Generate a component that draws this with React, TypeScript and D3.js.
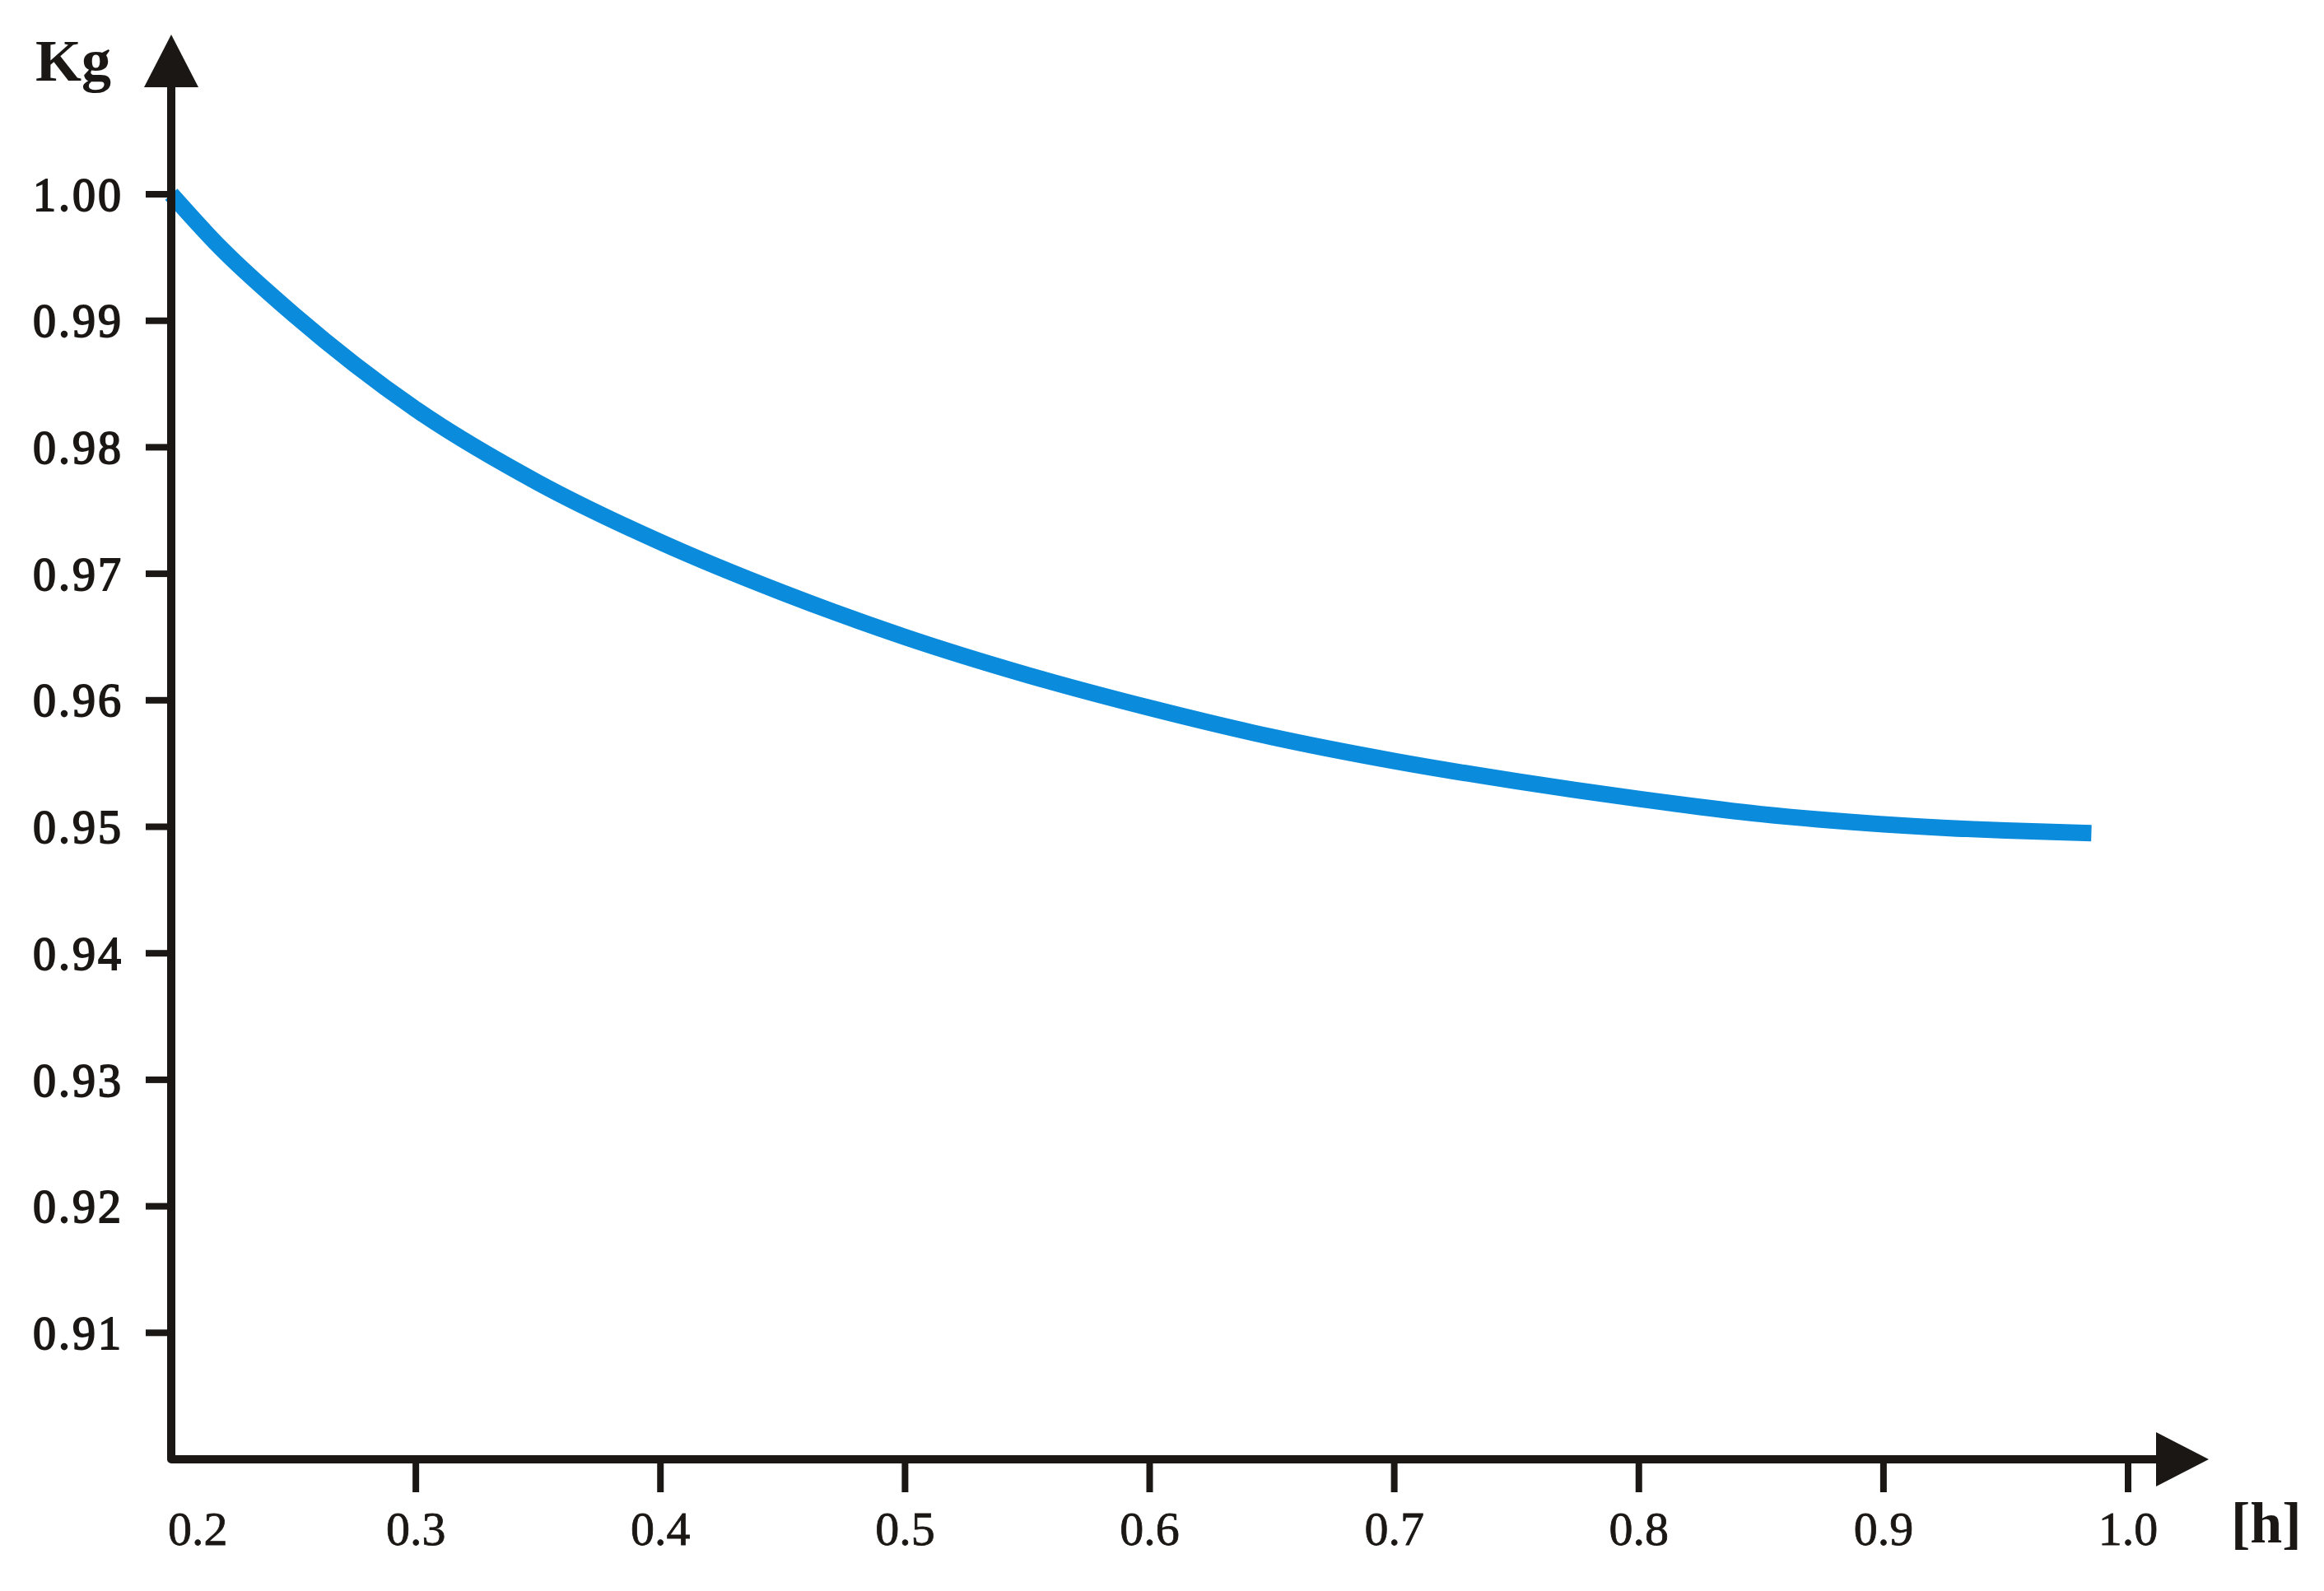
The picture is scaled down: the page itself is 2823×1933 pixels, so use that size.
import React from 'react';
import * as d3 from 'd3';

// Kg against time [h]
const hours = [0.2, 0.22, 0.25, 0.3, 0.35, 0.4, 0.45, 0.5, 0.55, 0.6, 0.65, 0.7, 0.75, 0.8, 0.85, 0.9, 0.95, 0.985];
const kg = [1.0, 0.9958, 0.9905, 0.983, 0.9772, 0.9725, 0.9685, 0.965, 0.962, 0.9594, 0.9571, 0.9552, 0.9536, 0.9522, 0.951, 0.9502, 0.9497, 0.9495];

const xTicks = [0.2, 0.3, 0.4, 0.5, 0.6, 0.7, 0.8, 0.9, 1.0];
const yTicks = [1.0, 0.99, 0.98, 0.97, 0.96, 0.95, 0.94, 0.93, 0.92, 0.91];

const W = 2823;
const H = 1933;
const ink = '#1a1714';
const blue = '#0a8bdc';
const font = '"Liberation Serif", "Times New Roman", serif';

export default function App() {
  const x = d3.scaleLinear().domain([0.2, 1.0]).range([208, 2585]);
  const y = d3.scaleLinear().domain([0.9, 1.0]).range([1773, 236]);

  const x0 = x(0.2);
  const y0 = y(0.9);
  const yTop = 42; // arrow tip
  const xEnd = 2683; // arrow tip
  const head = 64;
  const half = 33;

  const pts = hours.map((h, i) => [h, kg[i]] as [number, number]);
  const line = d3
    .line<[number, number]>()
    .x(d => x(d[0]))
    .y(d => y(d[1]))
    .curve(d3.curveMonotoneX);

  const fy = d3.format('.2f');
  const fx = d3.format('.1f');

  return (
    <svg
      width={W}
      height={H}
      style={{ position: 'absolute', left: 0, top: 0, background: '#fff' }}
    >
      <rect width={W} height={H} fill="#fff" />

      {/* curve */}
      <path d={line(pts) || ''} fill="none" stroke={blue} strokeWidth={20} strokeLinecap="butt" />

      {/* axes */}
      <path
        d={`M${x0},${yTop + head - 2} L${x0},${y0} L${xEnd - head + 2},${y0}`}
        fill="none"
        stroke={ink}
        strokeWidth={10}
        strokeLinejoin="round"
      />
      <path d={`M${x0},${yTop} L${x0 - half},${yTop + head} L${x0 + half},${yTop + head} Z`} fill={ink} />
      <path d={`M${xEnd},${y0} L${xEnd - head},${y0 - half} L${xEnd - head},${y0 + half} Z`} fill={ink} />

      {/* y ticks */}
      {yTicks.map(t => (
        <g key={'y' + t}>
          <line x1={x0 - 31} x2={x0} y1={y(t)} y2={y(t)} stroke={ink} strokeWidth={8} />
          <text
            x={150}
            y={y(t)}
            dy="0.35em"
            textAnchor="end"
            fontFamily={font}
            fontSize={56}
            letterSpacing={3}
            fill={ink}
            stroke={ink}
            strokeWidth={1.8}
          >
            {fy(t)}
          </text>
        </g>
      ))}

      {/* x ticks */}
      {xTicks.map((t, i) => (
        <g key={'x' + t}>
          {i > 0 && <line x1={x(t)} x2={x(t)} y1={y0} y2={y0 + 40} stroke={ink} strokeWidth={8} />}
          <text
            x={i === 0 ? x(t) - 4 : x(t)}
            y={y0 + 104}
            textAnchor={i === 0 ? 'start' : 'middle'}
            fontFamily={font}
            fontSize={58}
            fill={ink}
            stroke={ink}
            strokeWidth={0.8}
          >
            {fx(t)}
          </text>
        </g>
      ))}

      {/* axis titles */}
      <text x={43} y={98} fontFamily={font} fontSize={72} fontWeight="bold" fill={ink}>
        Kg
      </text>
      <text x={2710} y={1874} fontFamily={font} fontSize={70} fontWeight="bold" fill={ink}>
        [h]
      </text>
    </svg>
  );
}
